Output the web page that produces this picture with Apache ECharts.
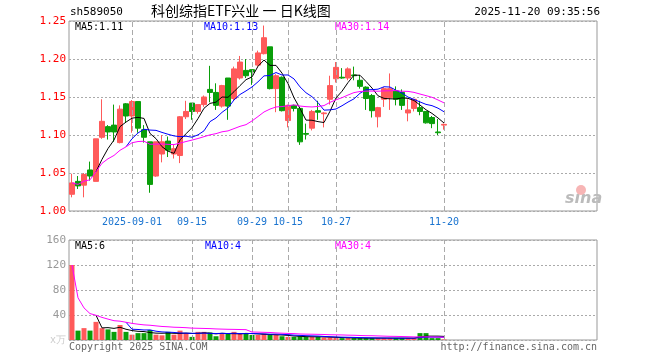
<!DOCTYPE html>
<html><head><meta charset="utf-8">
<script src="https://cdn.jsdelivr.net/npm/echarts@6/dist/echarts.min.js"></script>
<style>html,body{margin:0;padding:0;background:#fff}#c{width:660px;height:360px}</style>
</head><body><div id="c"></div>
<script>
const dates = [
'2025-08-18','2025-08-19','2025-08-20','2025-08-21','2025-08-22',
'2025-08-25','2025-08-26','2025-08-27','2025-08-28','2025-08-29',
'2025-09-01','2025-09-02','2025-09-03','2025-09-04','2025-09-05',
'2025-09-08','2025-09-09','2025-09-10','2025-09-11','2025-09-12',
'2025-09-15','2025-09-16','2025-09-17','2025-09-18','2025-09-19',
'2025-09-22','2025-09-23','2025-09-24','2025-09-25','2025-09-26',
'2025-09-29','2025-09-30','2025-10-09','2025-10-10',
'2025-10-13','2025-10-14','2025-10-15','2025-10-16','2025-10-17',
'2025-10-20','2025-10-21','2025-10-22','2025-10-23','2025-10-24',
'2025-10-27','2025-10-28','2025-10-29','2025-10-30','2025-10-31',
'2025-11-03','2025-11-04','2025-11-05','2025-11-06','2025-11-07',
'2025-11-10','2025-11-11','2025-11-12','2025-11-13','2025-11-14',
'2025-11-17','2025-11-18','2025-11-19','2025-11-20'];
const opens = [
1.022,1.039,1.034,1.054,1.039,1.097,1.111,1.113,1.090,1.141,
1.125,1.144,1.107,1.091,1.046,1.075,1.092,1.075,1.073,1.124,
1.142,1.131,1.140,1.160,1.156,1.138,1.175,1.148,1.175,1.185,
1.186,1.192,1.207,1.216,1.161,1.176,1.119,1.139,1.135,1.102,
1.109,1.132,1.128,1.147,1.174,1.176,1.175,1.179,1.172,1.163,
1.152,1.124,1.147,1.149,1.158,1.156,1.129,1.135,1.136,1.131,
1.123,1.104,1.113];
const closes = [
1.037,1.033,1.048,1.046,1.095,1.118,1.104,1.104,1.134,1.125,
1.144,1.109,1.097,1.035,1.091,1.091,1.080,1.082,1.124,1.131,
1.131,1.140,1.150,1.156,1.139,1.165,1.138,1.187,1.196,1.178,
1.183,1.208,1.228,1.161,1.178,1.132,1.139,1.135,1.091,1.101,
1.131,1.130,1.129,1.165,1.189,1.175,1.187,1.178,1.164,1.148,
1.132,1.136,1.161,1.161,1.147,1.139,1.133,1.147,1.131,1.116,
1.115,1.103,1.114];
const highs = [
1.049,1.046,1.050,1.065,1.095,1.147,1.113,1.140,1.139,1.142,
1.146,1.144,1.113,1.091,1.091,1.100,1.098,1.087,1.125,1.145,
1.142,1.140,1.152,1.191,1.168,1.166,1.175,1.190,1.204,1.200,
1.186,1.211,1.244,1.216,1.180,1.177,1.140,1.140,1.135,1.115,
1.133,1.145,1.130,1.178,1.196,1.188,1.189,1.190,1.179,1.164,
1.154,1.137,1.163,1.181,1.164,1.160,1.147,1.147,1.145,1.131,
1.125,1.121,1.115];
const lows = [
1.018,1.029,1.018,1.040,1.039,1.095,1.094,1.091,1.089,1.116,
1.103,1.103,1.090,1.024,1.045,1.064,1.071,1.069,1.063,1.121,
1.120,1.128,1.137,1.143,1.133,1.136,1.120,1.145,1.173,1.175,
1.166,1.190,1.206,1.160,1.130,1.131,1.110,1.131,1.087,1.094,
1.106,1.120,1.110,1.140,1.169,1.174,1.172,1.172,1.161,1.133,
1.123,1.110,1.137,1.133,1.139,1.133,1.118,1.131,1.126,1.115,
1.109,1.100,1.107];
const volumes = [
120,15,19,15,29,19,17,13,24,13,
8.5,11,11,16,8.5,7.5,13,8.5,15,11,
5,13,13,12,6,10,10,13,10,10,
8,8,10,8,8,6,5,5,6,5,
5,5,4,4,3.5,3,3,3,3,3,
3,3,3,3,3,3,3,3,11,11,
3,3,1];
const priceTicks = [1.00,1.05,1.10,1.15,1.20,1.25];
const volumeTicks = [0,40,80,120,160];
const labelDates = ['2025-09-01','2025-09-15','2025-09-29','2025-10-15','2025-10-27','2025-11-20'];
const priceLegend = ['MA5:1.11','MA10:1.13','MA30:1.14'];
const volumeLegend = ['MA5:6','MA10:4','MA30:4'];
const emptySlots = 25;

const RED = '#ff5a5a', GREEN = '#0a9e0a';
const MONO = 'DejaVu Sans Mono';
const cats = dates.concat(Array.from({length: emptySlots}, (_, i) => 'pad' + i));

function ma(arr, n, partial) {
  return arr.map((_, i) => {
    if (i < n - 1 && !partial) return '-';
    const s = Math.max(0, i - n + 1);
    let sum = 0;
    for (let k = s; k <= i; k++) sum += arr[k];
    return +(sum / (i - s + 1)).toFixed(4);
  });
}
const kData = opens.map((o, i) => [o, closes[i], lows[i], highs[i]]);
const volData = volumes.map((v, i) => ({value: v, itemStyle: {color: closes[i] >= opens[i] ? RED : GREEN}}));
const labelSet = new Set(labelDates);
const vLines = labelDates.map(d => ({xAxis: d}));
const vLineStyle = {color: '#aaa', type: [5, 3], width: 1};

const lineS = (name, data, color, xi) => ({
  type: 'line', name, data, xAxisIndex: xi, yAxisIndex: xi, showSymbol: false, symbol: 'none',
  lineStyle: {color, width: 1}, silent: true, z: 5
});

const chart = echarts.init(document.getElementById('c'), null, {renderer: 'canvas'});
chart.setOption({
  animation: false,
  backgroundColor: '#fff',
  grid: [
    {left: 69, right: 63, top: 21, height: 190, show: true, borderColor: '#999', borderWidth: 1},
    {left: 69, right: 63, top: 240, height: 100, show: true, borderColor: '#999', borderWidth: 1}
  ],
  xAxis: [
    {type: 'category', gridIndex: 0, data: cats, boundaryGap: true,
     axisLine: {show: false}, axisTick: {show: false}, splitLine: {show: false},
     axisLabel: {interval: (i, v) => labelSet.has(v), formatter: v => v === labelDates[0] ? v : v.slice(5),
       color: '#1a74d0', fontFamily: MONO, fontSize: 10, margin: 6}},
    {type: 'category', gridIndex: 1, data: cats, boundaryGap: true,
     axisLine: {show: false}, axisTick: {show: false}, splitLine: {show: false}, axisLabel: {show: false}}
  ],
  yAxis: [
    {type: 'value', gridIndex: 0, min: priceTicks[0], max: priceTicks[priceTicks.length - 1], interval: 0.05,
     axisLine: {show: false}, axisTick: {show: false},
     axisLabel: {color: '#ff0000', fontFamily: MONO, fontSize: 11, margin: 3, formatter: v => v.toFixed(2)},
     splitLine: {lineStyle: {color: '#aaa', type: [2, 2]}}},
    {type: 'value', gridIndex: 1, min: volumeTicks[0], max: volumeTicks[volumeTicks.length - 1], interval: 40,
     axisLine: {show: false}, axisTick: {show: false},
     axisLabel: {color: '#999', fontFamily: MONO, fontSize: 11, margin: 3,
       formatter: v => v === 0 ? '{u|x万}' : String(v), rich: {u: {color: '#ccc', fontFamily: MONO, fontSize: 10}}},
     splitLine: {lineStyle: {color: '#aaa', type: [2, 2]}}}
  ],
  series: [
    {type: 'candlestick', xAxisIndex: 0, yAxisIndex: 0, data: kData, barWidth: 5,
     itemStyle: {color: RED, color0: GREEN, borderColor: RED, borderColor0: GREEN, borderWidth: 1},
     markLine: {silent: true, symbol: 'none', label: {show: false}, lineStyle: vLineStyle, data: vLines, animation: false}},
    lineS('MA5', ma(closes, 5, false), '#000', 0),
    lineS('MA10', ma(closes, 10, false), '#0000ff', 0),
    lineS('MA30', ma(closes, 30, true), '#ff00ff', 0),
    {type: 'bar', xAxisIndex: 1, yAxisIndex: 1, data: volData, barWidth: 5,
     markLine: {silent: true, symbol: 'none', label: {show: false}, lineStyle: vLineStyle, data: vLines, animation: false}},
    lineS('VMA5', ma(volumes, 5, false), '#000', 1),
    lineS('VMA10', ma(volumes, 10, false), '#0000ff', 1),
    lineS('VMA30', ma(volumes, 30, true), '#ff00ff', 1)
  ],
  graphic: [
    {type: 'text', left: 70, top: 7, style: {text: 'sh589050', font: '11px ' + MONO, fill: '#000'}},
    {type: 'text', left: 151, top: 4, style: {text: '科创综指ETF兴业 一 日K线图', font: '14px "Noto Sans CJK SC"', fill: '#000'}},
    {type: 'text', right: 60, top: 7, style: {text: '2025-11-20 09:35:56', font: '11px ' + MONO, fill: '#000'}},
    {type: 'text', left: 75, top: 22, style: {text: priceLegend[0], font: '10px ' + MONO, fill: '#000'}},
    {type: 'text', left: 204, top: 22, style: {text: priceLegend[1], font: '10px ' + MONO, fill: '#0000ff'}},
    {type: 'text', left: 335, top: 22, style: {text: priceLegend[2], font: '10px ' + MONO, fill: '#ff00ff'}},
    {type: 'text', left: 75, top: 241, style: {text: volumeLegend[0], font: '10px ' + MONO, fill: '#000'}},
    {type: 'text', left: 205, top: 241, style: {text: volumeLegend[1], font: '10px ' + MONO, fill: '#0000ff'}},
    {type: 'text', left: 335, top: 241, style: {text: volumeLegend[2], font: '10px ' + MONO, fill: '#ff00ff'}},
    {type: 'text', left: 69, top: 342, style: {text: 'Copyright 2025 SINA.COM', font: '10px ' + MONO, fill: '#666'}},
    {type: 'text', right: 63, top: 342, style: {text: 'http://finance.sina.com.cn', font: '10px ' + MONO, fill: '#666'}},
    {type: 'text', left: 565, top: 191, style: {text: 'sina', font: 'italic bold 16px "DejaVu Sans"', fill: '#bbb'}},
    {type: 'circle', shape: {cx: 581, cy: 190, r: 5}, style: {fill: '#f7b5b5'}}
  ]
});
</script></body></html>
